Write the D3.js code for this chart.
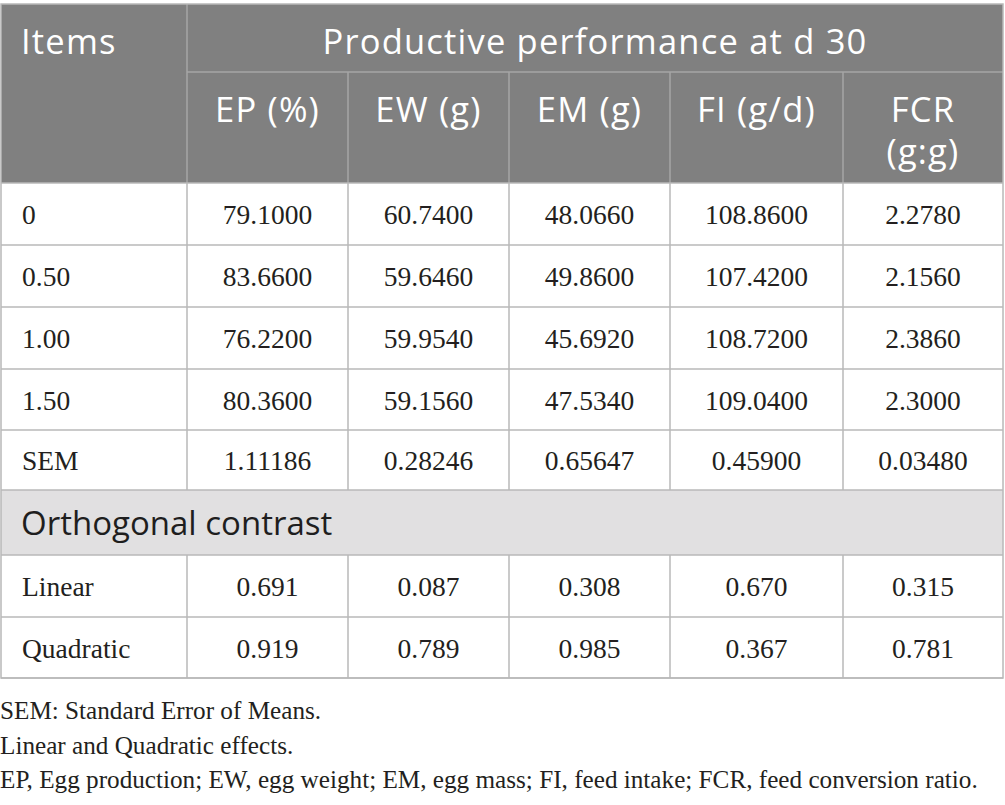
<!DOCTYPE html>
<html>
<head>
<meta charset="utf-8">
<script src="https://cdn.jsdelivr.net/npm/d3@7/dist/d3.min.js"></script>
<style>
  html, body { margin: 0; padding: 0; background: #fff; }
  svg { display: block; }
</style>
</head>
<body>
<div id="chart"></div>
<script>
// ---------- data ----------
const groupTitle = "Productive performance at d 30";
const stubTitle = "Items";
const columnLabels = [["EP (%)"], ["EW (g)"], ["EM (g)"], ["FI (g/d)"], ["FCR", "(g:g)"]];
const levels = ["0", "0.50", "1.00", "1.50"];
const EP  = [79.1000, 83.6600, 76.2200, 80.3600];
const EW  = [60.7400, 59.6460, 59.9540, 59.1560];
const EM  = [48.0660, 49.8600, 45.6920, 47.5340];
const FI  = [108.8600, 107.4200, 108.7200, 109.0400];
const FCR = [2.2780, 2.1560, 2.3860, 2.3000];
const semLabel = "SEM";
const SEM = [1.11186, 0.28246, 0.65647, 0.45900, 0.03480];
const contrastTitle = "Orthogonal contrast";
const contrastLabels = ["Linear", "Quadratic"];
const linearP    = [0.691, 0.087, 0.308, 0.670, 0.315];
const quadraticP = [0.919, 0.789, 0.985, 0.367, 0.781];
const footnotes = [
  "SEM: Standard Error of Means.",
  "Linear and Quadratic effects.",
  "EP, Egg production; EW, egg weight; EM, egg mass; FI, feed intake; FCR, feed conversion ratio."
];

// ---------- layout ----------
const W = 1005, H = 805;
const colEdges = [1, 187, 348, 509, 670, 843, 1003];
const tableTop = 4, head1 = 72, head2 = 183;
const bodyRowEdges = [183, 245, 307, 369, 430, 490];
const bandEdges = [490, 555];
const contrastRowEdges = [555, 617, 678];

const headerFill = "#808080";
const headerLine = "#a6a6a6";
const gridLine = "#b8b8b8";
const bandFill = "#e1e0e1";
const textDark = "#231f20";
const sans = "'Open Sans', 'Noto Sans', sans-serif";
const serif = "'Liberation Serif', 'DejaVu Serif', serif";

const fmtMean = d3.format(".4f");
const fmtSem = d3.format(".5f");
const fmtP = d3.format(".3f");

const svg = d3.select("#chart").append("svg").attr("width", W).attr("height", H);

// header background
svg.append("rect").attr("x", colEdges[0]).attr("y", tableTop)
  .attr("width", colEdges[6] - colEdges[0]).attr("height", head2 - tableTop)
  .attr("fill", headerFill);

// band background
svg.append("rect").attr("x", colEdges[0]).attr("y", bandEdges[0])
  .attr("width", colEdges[6] - colEdges[0]).attr("height", bandEdges[1] - bandEdges[0])
  .attr("fill", bandFill);

// header lines
const hl = svg.append("g").attr("stroke", headerLine).attr("stroke-width", 1.5);
hl.append("line").attr("x1", colEdges[1]).attr("x2", colEdges[6]).attr("y1", head1).attr("y2", head1);
hl.append("line").attr("x1", colEdges[1]).attr("x2", colEdges[1]).attr("y1", tableTop).attr("y2", head2);
colEdges.slice(2, 6).forEach(x => {
  hl.append("line").attr("x1", x).attr("x2", x).attr("y1", head1).attr("y2", head2);
});

// body grid lines
const gl = svg.append("g").attr("stroke", gridLine).attr("stroke-width", 1.5).attr("fill", "none");
gl.append("rect").attr("x", colEdges[0]).attr("y", tableTop)
  .attr("width", colEdges[6] - colEdges[0]).attr("height", contrastRowEdges[2] - tableTop);
[...bodyRowEdges, ...contrastRowEdges].forEach(y => {
  gl.append("line").attr("x1", colEdges[0]).attr("x2", colEdges[6]).attr("y1", y).attr("y2", y);
});
[[bodyRowEdges[0], bodyRowEdges[5]], [contrastRowEdges[0], contrastRowEdges[2]]].forEach(([y1, y2]) => {
  colEdges.slice(1, 6).forEach(x => {
    gl.append("line").attr("x1", x).attr("x2", x).attr("y1", y1).attr("y2", y2);
  });
});

// header text
const ht = svg.append("g").attr("fill", "#fff").attr("font-family", sans)
  .attr("font-size", 34.5).attr("letter-spacing", 1.2);
ht.append("text").attr("x", 21).attr("y", 54).text(stubTitle);
ht.append("text").attr("x", (colEdges[1] + colEdges[6]) / 2).attr("y", 54)
  .attr("text-anchor", "middle").text(groupTitle);
columnLabels.forEach((lines, i) => {
  const cx = (colEdges[i + 1] + colEdges[i + 2]) / 2;
  const t = ht.append("text").attr("x", cx).attr("y", 122).attr("text-anchor", "middle");
  lines.forEach((s, j) => {
    t.append("tspan").attr("x", cx).attr("dy", j === 0 ? 0 : 41.5).text(s);
  });
});

// body text
const bt = svg.append("g").attr("fill", textDark).attr("font-family", serif).attr("font-size", 27.5);
const series = [EP, EW, EM, FI, FCR];
function drawRow(label, values, fmt, y0, y1) {
  const by = (y0 + y1) / 2 + 10;
  bt.append("text").attr("x", 22).attr("y", by).text(label);
  values.forEach((v, i) => {
    bt.append("text").attr("x", (colEdges[i + 1] + colEdges[i + 2]) / 2).attr("y", by)
      .attr("text-anchor", "middle").text(fmt(v));
  });
}
levels.forEach((lv, r) => {
  drawRow(lv, series.map(s => s[r]), fmtMean, bodyRowEdges[r], bodyRowEdges[r + 1]);
});
drawRow(semLabel, SEM, fmtSem, bodyRowEdges[4], bodyRowEdges[5]);

svg.append("text").attr("x", 21).attr("y", (bandEdges[0] + bandEdges[1]) / 2 + 12)
  .attr("font-family", sans).attr("font-size", 33).attr("fill", "#1e1e1e").text(contrastTitle);

drawRow(contrastLabels[0], linearP, fmtP, contrastRowEdges[0], contrastRowEdges[1]);
drawRow(contrastLabels[1], quadraticP, fmtP, contrastRowEdges[1], contrastRowEdges[2]);

// footnotes
const ft = svg.append("g").attr("fill", textDark).attr("font-family", serif).attr("font-size", 25.2);
footnotes.forEach((t, i) => {
  ft.append("text").attr("x", 0).attr("y", 719 + i * 34.5).text(t);
});
</script>
</body>
</html>
